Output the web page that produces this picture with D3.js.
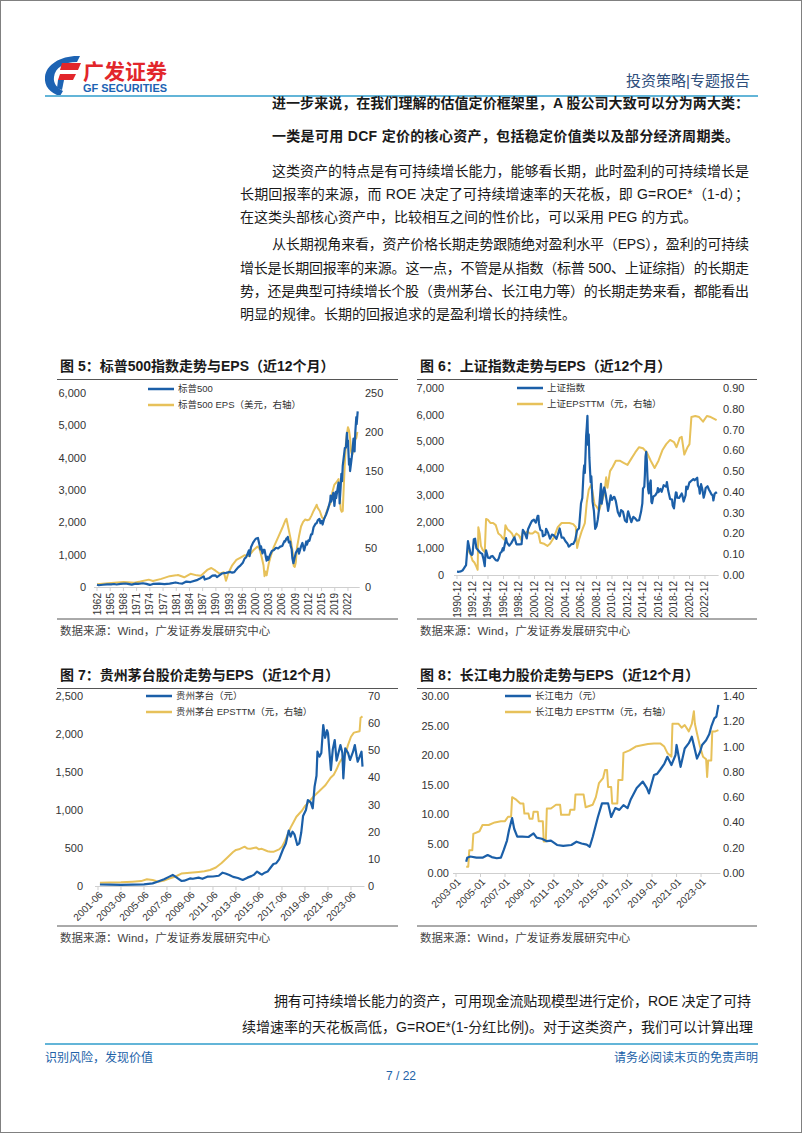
<!DOCTYPE html>
<html><head><meta charset="utf-8">
<script src="https://cdn.jsdelivr.net/npm/d3@7"></script>
<style>body{margin:0;background:#fff}svg{display:block}</style>
</head><body>
<svg id="page" width="802" height="1133"></svg>
<script>
// ---------------- DATA ----------------
const spxDates = ["1962-01","1962-06","1963-06","1964-06","1965-06","1966-02","1966-09","1967-09","1968-11","1969-06","1970-05","1971-04","1971-11","1973-01","1973-11","1974-09","1975-06","1976-12","1978-03","1979-06","1980-11","1981-09","1982-07","1983-06","1984-06","1985-12","1986-08","1987-08","1987-11","1988-12","1989-09","1990-06","1990-10","1991-12","1992-12","1993-12","1994-06","1994-12","1995-06","1995-12","1996-06","1996-12","1997-06","1997-10","1998-06","1998-08","1998-12","1999-06","1999-12","2000-03","2000-08","2000-12","2001-03","2001-05","2001-09","2001-12","2002-03","2002-07","2002-09","2002-11","2003-02","2003-06","2003-12","2004-06","2004-12","2005-06","2005-12","2006-06","2006-12","2007-02","2007-06","2007-08","2007-10","2008-01","2008-05","2008-06","2008-09","2008-11","2009-02","2009-06","2009-09","2009-12","2010-04","2010-06","2010-12","2011-04","2011-09","2011-12","2012-03","2012-05","2012-09","2012-12","2013-05","2013-08","2013-12","2014-06","2014-09","2014-12","2015-05","2015-08","2015-12","2016-02","2016-06","2016-12","2017-06","2017-12","2018-01","2018-03","2018-09","2018-12","2019-04","2019-05","2019-12","2020-02","2020-03","2020-06","2020-08","2020-10","2020-12","2021-06","2021-09","2021-12","2022-02","2022-03","2022-06","2022-08","2022-09","2022-12","2023-03","2023-07","2023-10","2023-12","2024-03","2024-04","2024-07"];
const spxIndex = [69,55,69,80,84,92,77,96,108,97,72,103,94,116,95,64,95,107,89,102,140,116,107,168,153,211,252,330,230,278,349,358,304,417,436,466,444,459,544,615,671,740,885,914,1133,957,1229,1372,1469,1499,1517,1320,1160,1256,1040,1148,1147,911,815,936,841,975,1112,1141,1212,1191,1248,1270,1418,1407,1503,1474,1549,1378,1400,1280,1166,896,735,919,1057,1115,1187,1031,1258,1364,1131,1258,1408,1310,1441,1426,1631,1633,1848,1960,1972,2059,2107,1972,2044,1932,2099,2239,2423,2674,2824,2641,2914,2507,2946,2752,3231,2954,2585,3100,3500,3270,3756,4298,4308,4766,4374,4530,3785,3955,3586,3840,4109,4589,4194,4770,5254,5036,5430];

const spxEpsDates = ["1962-01","1965-06","1968-06","1970-12","1972-06","1974-06","1975-06","1977-06","1979-06","1980-12","1981-06","1982-12","1984-06","1985-12","1986-12","1988-06","1989-06","1990-06","1991-06","1992-06","1992-12","1993-03","1993-06","1994-06","1995-06","1996-06","1997-06","1998-06","1999-06","2000-06","2000-12","2001-06","2001-12","2002-03","2002-06","2002-09","2003-03","2003-09","2004-06","2005-06","2006-06","2007-03","2007-06","2007-12","2008-06","2008-12","2009-03","2009-06","2009-09","2009-12","2010-06","2010-12","2011-06","2011-12","2012-06","2012-12","2013-06","2013-12","2014-06","2014-09","2014-12","2015-06","2015-12","2016-06","2016-12","2017-06","2017-12","2018-06","2018-12","2019-06","2019-12","2020-03","2020-06","2020-09","2020-12","2021-03","2021-06","2021-09","2021-12","2022-03","2022-06","2022-09","2022-12","2023-03","2023-06","2023-09","2023-12","2024-03","2024-06"];
const spxEps = [3.7,5.3,6.5,5.5,7.0,9.5,7.8,10.5,14.0,15.0,15.5,12.5,17.0,15.0,14.5,22.0,24.5,21.0,17.0,19.0,8.0,12.0,17.0,28.0,35.0,38.0,41.0,40.0,47.0,52.0,50.0,40.0,28.0,14.0,20.0,15.0,30.0,40.0,52.0,64.0,76.0,86.0,88.0,75.0,62.0,45.0,27.0,26.0,32.0,50.0,65.0,78.0,84.0,87.0,86.0,87.0,92.0,98.0,103.0,106.0,102.0,98.0,90.0,87.0,95.0,103.0,107.0,122.0,132.0,135.0,139.0,125.0,100.0,97.0,98.0,130.0,160.0,185.0,197.0,206.0,202.0,192.0,175.0,170.0,175.0,185.0,190.0,192.0,200.0];
const spxTickLabels = ["1962","1965","1968","1971","1974","1977","1981","1984","1987","1990","1993","1996","2000","2003","2006","2009","2012","2015","2019","2022"];

const shDates = ["1990-12","1991-03","1991-06","1991-09","1991-12","1992-02","1992-05","1992-06","1992-09","1992-11","1992-12","1993-02","1993-04","1993-06","1993-09","1993-12","1994-03","1994-05","1994-07","1994-08","1994-09","1994-12","1995-03","1995-05","1995-07","1995-12","1996-03","1996-05","1996-07","1996-09","1996-11","1996-12","1997-04","1997-05","1997-07","1997-09","1997-12","1998-05","1998-08","1998-12","1999-04","1999-06","1999-09","1999-12","2000-02","2000-06","2000-08","2000-11","2001-02","2001-05","2001-06","2001-07","2001-09","2001-12","2002-01","2002-05","2002-06","2002-09","2002-12","2003-03","2003-06","2003-10","2003-12","2004-03","2004-06","2004-09","2004-12","2005-03","2005-05","2005-06","2005-09","2005-12","2006-03","2006-06","2006-09","2006-12","2007-02","2007-04","2007-05","2007-06","2007-07","2007-08","2007-09","2007-10","2007-11","2007-12","2008-01","2008-03","2008-04","2008-06","2008-08","2008-10","2008-12","2009-02","2009-04","2009-07","2009-08","2009-11","2009-12","2010-02","2010-05","2010-06","2010-10","2010-12","2011-03","2011-04","2011-06","2011-09","2011-12","2012-02","2012-05","2012-08","2012-11","2012-12","2013-01","2013-06","2013-09","2013-12","2014-03","2014-06","2014-09","2014-11","2014-12","2015-02","2015-03","2015-04","2015-05","2015-06","2015-07","2015-08","2015-09","2015-11","2015-12","2016-01","2016-02","2016-04","2016-07","2016-10","2016-11","2016-12","2017-03","2017-05","2017-08","2017-11","2017-12","2018-01","2018-03","2018-06","2018-09","2018-10","2018-12","2019-02","2019-03","2019-04","2019-05","2019-08","2019-12","2020-01","2020-03","2020-06","2020-07","2020-09","2020-12","2021-01","2021-02","2021-06","2021-08","2021-12","2022-01","2022-03","2022-04","2022-06","2022-08","2022-10","2022-12","2023-01","2023-04","2023-06","2023-08","2023-10","2023-12","2024-01","2024-03","2024-05","2024-06"];
const shIndex = [127,120,137,180,292,367,1266,1140,800,750,780,1340,1358,1007,920,833,790,600,333,766,927,648,633,702,712,555,537,644,822,865,1010,917,1380,1248,1155,1097,1194,1411,1150,1147,1158,1690,1570,1367,1714,1928,2023,2070,1960,2214,2218,1920,1690,1646,1450,1516,1732,1581,1358,1510,1486,1350,1497,1742,1400,1396,1266,1181,1060,1080,1155,1161,1299,1672,1752,2675,2881,3841,4109,3820,4471,5218,5552,5955,4871,5261,4383,3473,3693,2736,2397,1729,1821,2082,2477,3412,2667,3195,3277,3051,2593,2398,2979,2808,2928,2911,2762,2359,2199,2428,2373,2047,1980,2269,2385,1979,2175,2116,2033,2048,2364,2683,3235,3310,3748,4442,4612,4277,3664,3206,3053,3445,3539,2738,2688,2938,2979,3100,3250,3104,3223,3117,3361,3317,3307,3481,3169,2847,2821,2603,2494,2941,3091,3078,2899,2886,3050,2977,2750,2985,3310,3218,3473,3483,3509,3591,3544,3640,3361,3252,3047,3399,3202,2893,3089,3256,3323,3202,3120,3019,2975,2789,3041,3087,3040];

const shEpsDates = ["1992-05","1992-09","1992-12","1993-03","1993-06","1993-08","1993-09","1993-11","1994-01","1994-04","1994-07","1994-09","1994-12","1995-04","1995-08","1995-12","1996-04","1996-08","1996-10","1997-01","1997-03","1997-06","1997-10","1998-01","1998-04","1998-08","1998-12","1999-03","1999-06","1999-09","2000-01","2000-05","2000-09","2001-01","2001-06","2001-09","2002-03","2002-08","2002-12","2003-06","2003-12","2004-06","2004-12","2005-06","2005-12","2006-04","2006-06","2006-09","2007-01","2007-06","2007-09","2007-12","2008-04","2008-09","2008-12","2009-04","2009-09","2009-12","2010-03","2010-05","2010-09","2011-01","2011-06","2011-12","2012-06","2012-12","2013-06","2013-12","2014-06","2014-12","2015-06","2015-12","2016-06","2016-12","2017-06","2017-12","2018-06","2018-12","2019-04","2019-09","2019-12","2020-04","2020-09","2020-12","2021-03","2021-09","2022-03","2022-09","2023-03","2023-09","2024-03","2024-06"];
const shEps = [0.12,0.10,0.07,0.06,0.04,0.025,0.23,0.20,0.14,0.12,0.11,0.27,0.265,0.25,0.25,0.24,0.20,0.19,0.18,0.17,0.24,0.22,0.21,0.20,0.18,0.20,0.19,0.17,0.21,0.20,0.21,0.20,0.20,0.21,0.20,0.155,0.15,0.14,0.15,0.18,0.23,0.25,0.25,0.25,0.245,0.23,0.13,0.17,0.21,0.25,0.35,0.41,0.435,0.34,0.33,0.31,0.36,0.39,0.47,0.42,0.50,0.52,0.55,0.55,0.54,0.53,0.56,0.59,0.615,0.61,0.59,0.55,0.515,0.55,0.60,0.63,0.65,0.64,0.615,0.66,0.665,0.58,0.615,0.63,0.76,0.765,0.76,0.738,0.765,0.76,0.75,0.745];
const shTickLabels = ["1990-12","1992-12","1994-12","1996-12","1998-12","2000-12","2002-12","2004-12","2006-12","2008-12","2010-12","2012-12","2014-12","2016-12","2018-12","2020-12","2022-12"];

const mtDates = ["2001-08","2002-06","2003-06","2004-06","2005-06","2006-03","2006-08","2007-03","2007-08","2007-12","2008-02","2008-06","2008-09","2008-12","2009-06","2009-09","2010-03","2010-07","2010-12","2011-06","2011-12","2012-04","2012-07","2012-11","2013-03","2013-08","2014-01","2014-06","2014-10","2015-01","2015-04","2015-07","2015-09","2015-12","2016-03","2016-06","2016-09","2016-12","2017-03","2017-07","2017-10","2018-01","2018-03","2018-05","2018-07","2018-10","2018-12","2019-02","2019-04","2019-07","2019-09","2019-12","2020-02","2020-04","2020-06","2020-07","2020-09","2020-11","2021-01","2021-03","2021-05","2021-06","2021-09","2021-11","2022-01","2022-03","2022-04","2022-07","2022-09","2022-10","2022-12","2023-03","2023-05","2023-08","2023-10","2023-12","2024-01","2024-03","2024-05","2024-06"];
const mtPrice = [20,18,16,18,22,35,57,90,120,145,130,95,66,70,100,95,110,95,123,125,135,175,165,145,120,105,79,110,130,150,190,165,150,175,190,240,290,300,350,480,560,730,650,715,680,540,560,700,920,1000,1131,1100,1022,1307,1450,1767,1701,1750,2118,1950,2050,2009,1526,1800,1921,1650,1701,1855,1750,1417,1811,1750,1658,1760,1855,1700,1636,1700,1767,1570];

const mtEpsDates = ["2001-08","2002-06","2003-06","2004-06","2005-03","2005-09","2006-03","2006-09","2007-03","2007-09","2008-03","2008-09","2009-03","2009-09","2010-03","2010-09","2011-03","2011-09","2012-03","2012-09","2013-03","2013-06","2013-09","2014-03","2014-06","2014-09","2015-03","2015-06","2015-09","2016-03","2016-06","2016-09","2017-03","2017-06","2017-09","2017-12","2018-03","2018-06","2018-09","2019-03","2019-06","2019-09","2020-03","2020-06","2020-09","2021-03","2021-06","2021-09","2021-12","2022-03","2022-06","2022-09","2022-12","2023-03","2023-06","2023-09","2024-03","2024-04","2024-06"];
const mtEps = [1.2,1.3,1.4,1.6,1.8,2.5,2.2,1.6,2.0,2.8,3.5,4.6,4.8,5.0,5.2,5.4,5.9,6.8,8.5,10.5,12.5,13.3,13.5,14.5,13.8,13.7,14.2,13.5,13.7,12.8,12.6,12.6,13.5,14.5,16.5,19.0,21.5,23.5,25.5,27.8,29.5,30.5,33.0,34.0,35.0,37.0,38.5,40.0,41.0,43.0,45.5,47.0,48.5,52.0,55.0,56.5,57.0,62.0,62.5];
const mtTickLabels = ["2001-06","2003-06","2005-06","2007-06","2009-06","2011-06","2013-06","2015-06","2017-06","2019-06","2021-06","2023-06"];

const cjDates = ["2003-11","2003-12","2004-03","2004-09","2005-03","2005-08","2005-12","2006-05","2006-09","2006-12","2007-03","2007-05","2007-08","2007-10","2008-01","2008-06","2008-12","2009-05","2009-08","2010-01","2010-06","2010-10","2011-04","2011-10","2012-06","2012-11","2013-04","2013-09","2013-12","2014-03","2014-08","2014-12","2015-06","2015-09","2016-01","2016-05","2016-09","2017-01","2017-04","2017-10","2018-04","2018-08","2018-10","2019-03","2019-06","2019-09","2020-01","2020-04","2020-08","2020-12","2021-01","2021-05","2021-09","2022-01","2022-04","2022-09","2022-12","2023-02","2023-06","2023-09","2023-11","2024-02","2024-04","2024-06"];
const cjPrice = [1.9,2.6,2.8,2.6,2.6,3.05,2.7,2.5,2.6,4.0,5.5,7.3,9.3,7.5,6.15,6.15,6.1,6.7,6.0,5.8,5.4,5.5,4.75,4.6,4.75,5.3,5.0,4.8,4.45,6.15,9.5,11.8,11.8,9.5,11.0,10.7,11.5,11.0,12.4,14.4,15.5,14.4,13.5,16.6,16.8,17.5,18.5,19.7,18.3,20.0,21.7,18.0,21.1,22.0,23.1,19.4,20.5,21.7,22.5,23.5,24.8,26.2,26.5,28.5];

const cjEpsDates = ["2003-11","2004-01","2004-02","2004-05","2004-06","2004-12","2005-03","2005-09","2006-03","2006-09","2007-01","2007-04","2007-07","2007-08","2007-12","2008-04","2008-07","2008-08","2008-12","2009-01","2009-04","2009-05","2009-09","2009-10","2010-02","2010-03","2010-05","2010-06","2010-10","2011-03","2011-07","2011-08","2012-04","2012-05","2012-09","2012-10","2013-06","2013-08","2014-03","2014-06","2014-09","2015-01","2015-03","2015-05","2015-06","2015-09","2015-10","2016-03","2016-04","2016-08","2016-09","2017-03","2017-09","2018-03","2018-09","2019-03","2019-09","2020-01","2020-04","2020-08","2020-09","2021-03","2021-06","2021-09","2022-01","2022-04","2022-06","2022-07","2022-09","2022-12","2023-03","2023-06","2023-07","2023-08","2023-11","2023-12","2024-03","2024-06"];
const cjEps = [0.05,0.05,0.18,0.18,0.31,0.33,0.38,0.38,0.40,0.41,0.41,0.445,0.445,0.60,0.58,0.55,0.55,0.47,0.47,0.43,0.43,0.485,0.485,0.41,0.41,0.25,0.25,0.51,0.51,0.54,0.54,0.46,0.46,0.50,0.50,0.62,0.62,0.52,0.54,0.60,0.71,0.75,0.815,0.815,0.68,0.68,0.55,0.55,0.735,0.735,0.95,0.97,1.0,1.01,1.02,1.025,1.025,1.0,0.95,0.92,1.18,1.18,1.15,1.17,1.12,1.18,1.28,1.18,1.105,1.0,0.92,0.90,0.76,0.89,0.89,1.12,1.12,1.13];
const cjTickLabels = ["2003-01","2005-01","2007-01","2009-01","2011-01","2013-01","2015-01","2017-01","2019-01","2021-01","2023-01"];

// ---------------- PAGE ----------------
const FONT = "'Liberation Sans','Noto Sans CJK SC',sans-serif";
const BLUE = "#1b5fa8", GOLD = "#e7c15a";
const parse = d3.timeParse("%Y-%m");
const svg = d3.select("#page").attr("font-family", FONT);

svg.append("rect").attr("x",0.5).attr("y",0.5).attr("width",801).attr("height",1132)
  .attr("fill","#fff").attr("stroke","#808080");

// logo
const logo = svg.append("g");
logo.append("path").attr("d","M80,56 C62,55 46,64 45,77 C44,86 50,93 60,96 L63,91 C57,88 53,83 54,77 C55,68 64,62 77,62 Z").attr("fill","#1d63b3");
logo.append("path").attr("d","M62,63 L81,63 L78,70 L60,70 Z").attr("fill","#e2262b");
logo.append("path").attr("d","M60,74 L76,74 L73,80 L58,80 Z").attr("fill","#e2262b");
logo.append("path").attr("d","M58,80 L64,80 L62,90 L57,88 Z").attr("fill","#1d63b3");
logo.append("text").attr("x",83).attr("y",79).text("广发证券").attr("font-size",21).attr("font-weight","bold").attr("fill","#e2262b").attr("textLength",84);
logo.append("text").attr("x",83).attr("y",92).text("GF SECURITIES").attr("font-size",10.5).attr("font-weight","bold").attr("fill","#1d63b3").attr("textLength",84).attr("lengthAdjust","spacingAndGlyphs");

svg.append("text").attr("x",750).attr("y",86).attr("text-anchor","end").text("投资策略|专题报告")
  .attr("font-size",15).attr("fill","#2e4e7c");
svg.append("line").attr("x1",45).attr("x2",758).attr("y1",96).attr("y2",96).attr("stroke","#63b5d8").attr("stroke-width",2);

function line(str, x, y, opts={}) {
  const t = svg.append("text").attr("x",x).attr("y",y).text(str)
    .attr("font-size", opts.size || 14).attr("fill", opts.fill || "#1a1a1a");
  if (opts.bold) t.attr("font-weight","bold");
  if (opts.right) t.attr("textLength", opts.right - x).attr("lengthAdjust","spacing");
  if (opts.anchor) t.attr("text-anchor", opts.anchor);
  return t;
}
line("进一步来说，在我们理解的估值定价框架里，A 股公司大致可以分为两大类：", 272, 108, {bold:true, right:749});
line("一类是可用 DCF 定价的核心资产，包括稳定价值类以及部分经济周期类。", 272, 141, {bold:true, right:739});
line("这类资产的特点是有可持续增长能力，能够看长期，此时盈利的可持续增长是", 272, 176, {right:749});
line("长期回报率的来源，而 ROE 决定了可持续增速率的天花板，即 G=ROE*（1-d）；", 240, 199, {right:749});
line("在这类头部核心资产中，比较相互之间的性价比，可以采用 PEG 的方式。", 240, 222);
line("从长期视角来看，资产价格长期走势跟随绝对盈利水平（EPS），盈利的可持续", 272, 249, {right:749});
line("增长是长期回报率的来源。这一点，不管是从指数（标普 500、上证综指）的长期走", 240, 273, {right:749});
line("势，还是典型可持续增长个股（贵州茅台、长江电力等）的长期走势来看，都能看出", 240, 296, {right:749});
line("明显的规律。长期的回报追求的是盈利增长的持续性。", 240, 319);

line("拥有可持续增长能力的资产，可用现金流贴现模型进行定价，ROE 决定了可持", 274, 1006, {right:751});
line("续增速率的天花板高低，G=ROE*(1-分红比例)。对于这类资产，我们可以计算出理", 242, 1032, {right:753});

svg.append("line").attr("x1",45).attr("x2",758).attr("y1",1044).attr("y2",1044).attr("stroke","#63b5d8").attr("stroke-width",2);
line("识别风险，发现价值", 45, 1062, {size:12, fill:"#2262a8"});
line("请务必阅读末页的免责声明", 758, 1062, {size:12, fill:"#2262a8", anchor:"end"});
line("7 / 22", 401, 1080, {size:12, fill:"#2262a8", anchor:"middle"});

// ---------------- CHARTS ----------------
function drawChart(cfg) {
  const g = svg.append("g");
  g.append("text").attr("x", cfg.fx + 3).attr("y", cfg.titleY).text(cfg.title)
    .attr("font-size", 14).attr("font-weight","bold").attr("fill","#1a1a1a");
  g.append("line").attr("x1", cfg.fx).attr("x2", cfg.fx2).attr("y1", cfg.titleY + 8.5).attr("y2", cfg.titleY + 8.5).attr("stroke","#555").attr("stroke-width",1);
  g.append("line").attr("x1", cfg.fx).attr("x2", cfg.fx2).attr("y1", cfg.bottomY).attr("y2", cfg.bottomY).attr("stroke","#555").attr("stroke-width",1);
  g.append("text").attr("x", cfg.fx + 3).attr("y", cfg.bottomY + 16).text("数据来源：Wind，广发证券发展研究中心")
    .attr("font-size", 11.5).attr("fill","#444");

  const x = d3.scaleTime().domain([parse(cfg.xStart), parse(cfg.xEnd)]).range([cfg.px0, cfg.px1]);
  const yL = d3.scaleLinear().domain([0, cfg.leftMax]).range([cfg.py0, cfg.py1]);
  const yR = d3.scaleLinear().domain([0, cfg.rightMax]).range([cfg.py0, cfg.py1]);

  const axL = d3.axisLeft(yL).tickValues(d3.range(0, cfg.leftMax + cfg.leftStep/2, cfg.leftStep))
    .tickSize(0).tickPadding(0).tickFormat(d3.format(cfg.leftFmt));
  const axR = d3.axisRight(yR).tickValues(d3.range(0, cfg.rightMax + cfg.rightStep/2, cfg.rightStep))
    .tickSize(0).tickPadding(0).tickFormat(d3.format(cfg.rightFmt));
  [[axL, cfg.leftLabelX],[axR, cfg.rightLabelX]].forEach(([ax, px]) => {
    const a = g.append("g").attr("transform", `translate(${px},0)`).call(ax);
    a.select(".domain").remove();
    a.attr("font-family", FONT).attr("font-size", 11).attr("color","#333");
  });

  // x axis
  g.append("line").attr("x1", cfg.px0 - 3).attr("x2", cfg.px1 + 2).attr("y1", cfg.py0 + 0.5).attr("y2", cfg.py0 + 0.5)
    .attr("stroke","#cfcfcf");
  const ticks = cfg.tickDates.map((d, i) => ({date: d, label: cfg.tickLabels[i]}));
  const tg = g.append("g").selectAll("g").data(ticks).join("g")
    .attr("transform", d => `translate(${x(d.date)},${cfg.py0})`);
  tg.append("line").attr("y1", 0).attr("y2", 4).attr("stroke","#cfcfcf");
  tg.append("text").text(d => d.label).attr("font-size", 10).attr("fill","#333")
    .attr("text-anchor","end").attr("dy","0.35em")
    .attr("transform", cfg.rot === -90 ? "translate(0,6) rotate(-90)" : "translate(3,7) rotate(-45)");

  const mk = (dates, vals) => d3.zip(dates, vals).map(([d, v]) => ({date: parse(d), v}));
  const lineR = d3.line().x(d => x(d.date)).y(d => yR(d.v));
  const lineL = d3.line().x(d => x(d.date)).y(d => yL(d.v));
  g.append("path").datum(mk(cfg.rDates, cfg.rVals)).attr("d", lineR)
    .attr("fill","none").attr("stroke", GOLD).attr("stroke-width", 2).attr("stroke-linejoin","round");
  g.append("path").datum(mk(cfg.lDates, cfg.lVals)).attr("d", lineL)
    .attr("fill","none").attr("stroke", BLUE).attr("stroke-width", 2.2).attr("stroke-linejoin","round");

  // legend
  const lg = g.append("g").attr("transform", `translate(${cfg.legX},${cfg.legY})`);
  [[BLUE, cfg.names[0], 0],[GOLD, cfg.names[1], 16]].forEach(([c, n, dy]) => {
    lg.append("line").attr("x1", 0).attr("x2", 26).attr("y1", dy).attr("y2", dy).attr("stroke", c).attr("stroke-width", 2.5);
    lg.append("text").attr("x", 30).attr("y", dy).attr("dy","0.35em").text(n).attr("font-size", 9.5).attr("fill","#333");
  });
}

drawChart({
  title: "图 5：标普500指数走势与EPS（近12个月）", fx: 57, fx2: 398, titleY: 371, bottomY: 619,
  xStart: "1962-01", xEnd: "2024-07", px0: 97, px1: 357.7, py0: 587, py1: 393,
  leftMax: 6000, leftStep: 1000, leftFmt: ",", rightMax: 250, rightStep: 50, rightFmt: "d",
  leftLabelX: 86, rightLabelX: 365, rot: -90,
  tickLabels: spxTickLabels, tickDates: spxTickLabels.map((_, i) => d3.timeMonth.offset(parse("1962-01"), 38 * i)),
  lDates: spxDates, lVals: spxIndex, rDates: spxEpsDates, rVals: spxEps,
  legX: 148, legY: 389, names: ["标普500", "标普500 EPS（美元，右轴）"]
});
drawChart({
  title: "图 6：上证指数走势与EPS（近12个月）", fx: 417, fx2: 757, titleY: 371, bottomY: 619,
  xStart: "1990-12", xEnd: "2024-06", px0: 457, px1: 716.6, py0: 575, py1: 388,
  leftMax: 7000, leftStep: 1000, leftFmt: ",", rightMax: 0.9, rightStep: 0.1, rightFmt: ".2f",
  leftLabelX: 444, rightLabelX: 723, rot: -90,
  tickLabels: shTickLabels, tickDates: shTickLabels.map(parse),
  lDates: shDates, lVals: shIndex, rDates: shEpsDates, rVals: shEps,
  legX: 517, legY: 388, names: ["上证指数", "上证EPSTTM（元，右轴）"]
});
drawChart({
  title: "图 7：贵州茅台股价走势与EPS（近12个月）", fx: 57, fx2: 398, titleY: 680, bottomY: 926,
  xStart: "2001-06", xEnd: "2024-06", px0: 98, px1: 362.5, py0: 886, py1: 696,
  leftMax: 2500, leftStep: 500, leftFmt: ",", rightMax: 70, rightStep: 10, rightFmt: "d",
  leftLabelX: 83, rightLabelX: 368, rot: -45,
  tickLabels: mtTickLabels, tickDates: mtTickLabels.map(parse),
  lDates: mtDates, lVals: mtPrice, rDates: mtEpsDates, rVals: mtEps,
  legX: 146, legY: 696, names: ["贵州茅台（元）", "贵州茅台 EPSTTM（元，右轴）"]
});
drawChart({
  title: "图 8：长江电力股价走势与EPS（近12个月）", fx: 417, fx2: 757, titleY: 680, bottomY: 926,
  xStart: "2003-01", xEnd: "2024-06", px0: 456, px1: 718.4, py0: 873, py1: 696,
  leftMax: 30, leftStep: 5, leftFmt: ".2f", rightMax: 1.4, rightStep: 0.2, rightFmt: ".2f",
  leftLabelX: 449, rightLabelX: 723, rot: -45,
  tickLabels: cjTickLabels, tickDates: cjTickLabels.map(parse),
  lDates: cjDates, lVals: cjPrice, rDates: cjEpsDates, rVals: cjEps,
  legX: 505, legY: 696, names: ["长江电力（元）", "长江电力 EPSTTM（元，右轴）"]
});
</script>
</body></html>
